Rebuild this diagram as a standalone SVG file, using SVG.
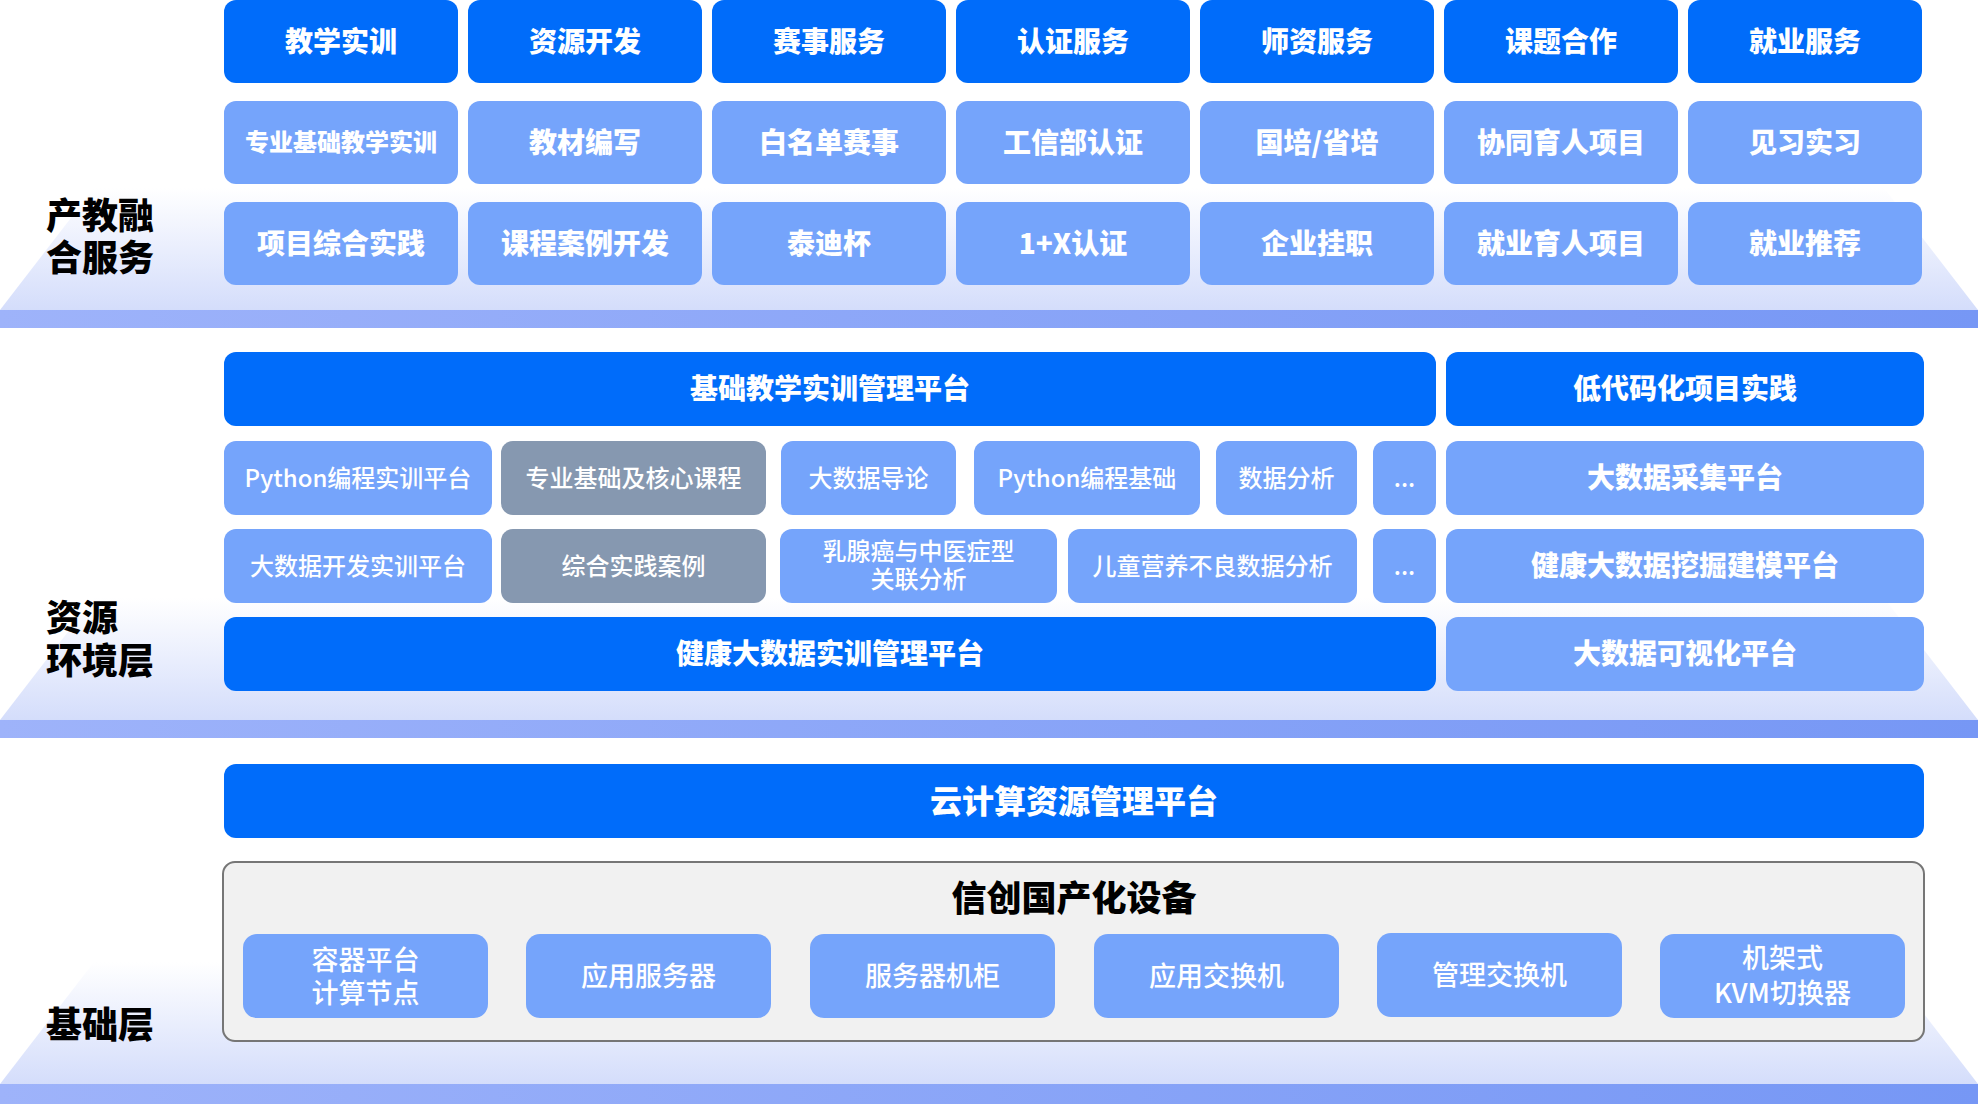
<svg xmlns="http://www.w3.org/2000/svg" width="1978" height="1104" viewBox="0 0 1978 1104">
<defs>
<linearGradient id="fade" x1="0" y1="0" x2="0" y2="1">
<stop offset="0" stop-color="#ffffff"/>
<stop offset="1" stop-color="#d4ddfb"/>
</linearGradient>
<linearGradient id="band" x1="0" y1="0" x2="1" y2="0">
<stop offset="0" stop-color="#9eb3fa"/>
<stop offset="1" stop-color="#7697f5"/>
</linearGradient>
<style>
.dk{fill:#006cfa}
.lt{fill:#75a4fb}
.gr{fill:#8698b0}
.band{fill:url(#band)}
.fade{fill:url(#fade)}
text{font-family:"Noto Sans CJK SC","Noto Sans",sans-serif;text-anchor:middle;fill:#ffffff}
.b28{font-size:28px;font-weight:900}
.b24{font-size:24px;font-weight:900}
.r24{font-size:24px;font-weight:500}
.r27{font-size:27px;font-weight:500}
.b32{font-size:32px;font-weight:900}
.ttl{font-size:35px;font-weight:900;fill:#000000}
.lbl{font-size:36px;font-weight:900;fill:#000000;text-anchor:start}
.box{fill:#f1f1f1;stroke:#767676;stroke-width:2}
</style>
</defs>

<g id="background">
<polygon class="fade" points="0,310 94,188 1884,188 1978,310"/>
<rect class="band" x="0" y="310" width="1978" height="18"/>
<polygon class="fade" points="0,720 94,598 1884,598 1978,720"/>
<rect class="band" x="0" y="720" width="1978" height="18"/>
<polygon class="fade" points="0,1084 94,962 1884,962 1978,1084"/>
<rect class="band" x="0" y="1084" width="1978" height="20"/>
</g>

<g id="layer-labels">
<g id="label-service"><text class="lbl" x="46" y="229">产教融<tspan x="46" y="271">合服务</tspan></text></g>
<g id="label-resource"><text class="lbl" x="46" y="631">资源<tspan x="46" y="674">环境层</tspan></text></g>
<g id="label-base"><text class="lbl" x="46" y="1038">基础层</text></g>
</g>

<g id="service-layer">
<g id="s-r1c1"><rect class="dk" x="224" y="0" width="234" height="83" rx="12"/><text class="b28" x="341" y="52">教学实训</text></g>
<g id="s-r1c2"><rect class="dk" x="468" y="0" width="234" height="83" rx="12"/><text class="b28" x="585" y="52">资源开发</text></g>
<g id="s-r1c3"><rect class="dk" x="712" y="0" width="234" height="83" rx="12"/><text class="b28" x="829" y="52">赛事服务</text></g>
<g id="s-r1c4"><rect class="dk" x="956" y="0" width="234" height="83" rx="12"/><text class="b28" x="1073" y="52">认证服务</text></g>
<g id="s-r1c5"><rect class="dk" x="1200" y="0" width="234" height="83" rx="12"/><text class="b28" x="1317" y="52">师资服务</text></g>
<g id="s-r1c6"><rect class="dk" x="1444" y="0" width="234" height="83" rx="12"/><text class="b28" x="1561" y="52">课题合作</text></g>
<g id="s-r1c7"><rect class="dk" x="1688" y="0" width="234" height="83" rx="12"/><text class="b28" x="1805" y="52">就业服务</text></g>

<g id="s-r2c1"><rect class="lt" x="224" y="101" width="234" height="83" rx="12"/><text class="b24" x="341" y="151">专业基础教学实训</text></g>
<g id="s-r2c2"><rect class="lt" x="468" y="101" width="234" height="83" rx="12"/><text class="b28" x="585" y="153">教材编写</text></g>
<g id="s-r2c3"><rect class="lt" x="712" y="101" width="234" height="83" rx="12"/><text class="b28" x="829" y="153">白名单赛事</text></g>
<g id="s-r2c4"><rect class="lt" x="956" y="101" width="234" height="83" rx="12"/><text class="b28" x="1073" y="153">工信部认证</text></g>
<g id="s-r2c5"><rect class="lt" x="1200" y="101" width="234" height="83" rx="12"/><text class="b28" x="1317" y="153">国培/省培</text></g>
<g id="s-r2c6"><rect class="lt" x="1444" y="101" width="234" height="83" rx="12"/><text class="b28" x="1561" y="153">协同育人项目</text></g>
<g id="s-r2c7"><rect class="lt" x="1688" y="101" width="234" height="83" rx="12"/><text class="b28" x="1805" y="153">见习实习</text></g>

<g id="s-r3c1"><rect class="lt" x="224" y="202" width="234" height="83" rx="12"/><text class="b28" x="341" y="254">项目综合实践</text></g>
<g id="s-r3c2"><rect class="lt" x="468" y="202" width="234" height="83" rx="12"/><text class="b28" x="585" y="254">课程案例开发</text></g>
<g id="s-r3c3"><rect class="lt" x="712" y="202" width="234" height="83" rx="12"/><text class="b28" x="829" y="254">泰迪杯</text></g>
<g id="s-r3c4"><rect class="lt" x="956" y="202" width="234" height="83" rx="12"/><text class="b28" x="1073" y="254">1+X认证</text></g>
<g id="s-r3c5"><rect class="lt" x="1200" y="202" width="234" height="83" rx="12"/><text class="b28" x="1317" y="254">企业挂职</text></g>
<g id="s-r3c6"><rect class="lt" x="1444" y="202" width="234" height="83" rx="12"/><text class="b28" x="1561" y="254">就业育人项目</text></g>
<g id="s-r3c7"><rect class="lt" x="1688" y="202" width="234" height="83" rx="12"/><text class="b28" x="1805" y="254">就业推荐</text></g>
</g>

<g id="resource-layer">
<g id="m-basic-platform"><rect class="dk" x="224" y="352" width="1212" height="74" rx="12"/><text class="b28" x="830" y="399">基础教学实训管理平台</text></g>
<g id="m-lowcode"><rect class="dk" x="1446" y="352" width="478" height="74" rx="12"/><text class="b28" x="1685" y="399">低代码化项目实践</text></g>

<g id="m-python-platform"><rect class="lt" x="224" y="441" width="268" height="74" rx="12"/><text class="r24" x="358" y="487">Python编程实训平台</text></g>
<g id="m-core-course"><rect class="gr" x="501" y="441" width="265" height="74" rx="12"/><text class="r24" x="633.5" y="487">专业基础及核心课程</text></g>
<g id="m-bigdata-intro"><rect class="lt" x="781" y="441" width="175" height="74" rx="12"/><text class="r24" x="868.5" y="487">大数据导论</text></g>
<g id="m-python-basic"><rect class="lt" x="974" y="441" width="226" height="74" rx="12"/><text class="r24" x="1087" y="487">Python编程基础</text></g>
<g id="m-data-analysis"><rect class="lt" x="1216" y="441" width="141" height="74" rx="12"/><text class="r24" x="1286.5" y="487">数据分析</text></g>
<g id="m-more1"><rect class="lt" x="1373" y="441" width="63" height="74" rx="12"/><text class="r24" x="1404.5" y="487">...</text></g>
<g id="m-collect"><rect class="lt" x="1446" y="441" width="478" height="74" rx="12"/><text class="b28" x="1685" y="488">大数据采集平台</text></g>

<g id="m-dev-platform"><rect class="lt" x="224" y="529" width="268" height="74" rx="12"/><text class="r24" x="358" y="575">大数据开发实训平台</text></g>
<g id="m-cases"><rect class="gr" x="501" y="529" width="265" height="74" rx="12"/><text class="r24" x="633.5" y="575">综合实践案例</text></g>
<g id="m-breast"><rect class="lt" x="780" y="529" width="277" height="74" rx="12"/><text class="r24" x="918.5" y="560">乳腺癌与中医症型<tspan x="918.5" y="588">关联分析</tspan></text></g>
<g id="m-child"><rect class="lt" x="1068" y="529" width="289" height="74" rx="12"/><text class="r24" x="1212.5" y="575">儿童营养不良数据分析</text></g>
<g id="m-more2"><rect class="lt" x="1373" y="529" width="63" height="74" rx="12"/><text class="r24" x="1404.5" y="575">...</text></g>
<g id="m-mining"><rect class="lt" x="1446" y="529" width="478" height="74" rx="12"/><text class="b28" x="1685" y="576">健康大数据挖掘建模平台</text></g>

<g id="m-health-platform"><rect class="dk" x="224" y="617" width="1212" height="74" rx="12"/><text class="b28" x="830" y="664">健康大数据实训管理平台</text></g>
<g id="m-visual"><rect class="lt" x="1446" y="617" width="478" height="74" rx="12"/><text class="b28" x="1685" y="664">大数据可视化平台</text></g>
</g>

<g id="base-layer">
<g id="b-cloud"><rect class="dk" x="224" y="764" width="1700" height="74" rx="12"/><text class="b32" x="1074" y="813">云计算资源管理平台</text></g>
<g id="b-xinchuang">
<rect class="box" x="223" y="862" width="1701" height="179" rx="12"/>
<text class="ttl" x="1074" y="911">信创国产化设备</text>
</g>
<g id="b-container"><rect class="lt" x="243" y="934" width="245" height="84" rx="14"/><text class="r27" x="365.5" y="970">容器平台<tspan x="365.5" y="1003">计算节点</tspan></text></g>
<g id="b-app-server"><rect class="lt" x="526" y="934" width="245" height="84" rx="14"/><text class="r27" x="648.5" y="986">应用服务器</text></g>
<g id="b-cabinet"><rect class="lt" x="810" y="934" width="245" height="84" rx="14"/><text class="r27" x="932.5" y="986">服务器机柜</text></g>
<g id="b-app-switch"><rect class="lt" x="1094" y="934" width="245" height="84" rx="14"/><text class="r27" x="1216.5" y="986">应用交换机</text></g>
<g id="b-mgmt-switch"><rect class="lt" x="1377" y="933" width="245" height="84" rx="14"/><text class="r27" x="1499.5" y="985">管理交换机</text></g>
<g id="b-kvm"><rect class="lt" x="1660" y="934" width="245" height="84" rx="14"/><text class="r27" x="1782.5" y="968">机架式<tspan x="1782.5" y="1003">KVM切换器</tspan></text></g>
</g>

<g id="connectors"/>
</svg>
